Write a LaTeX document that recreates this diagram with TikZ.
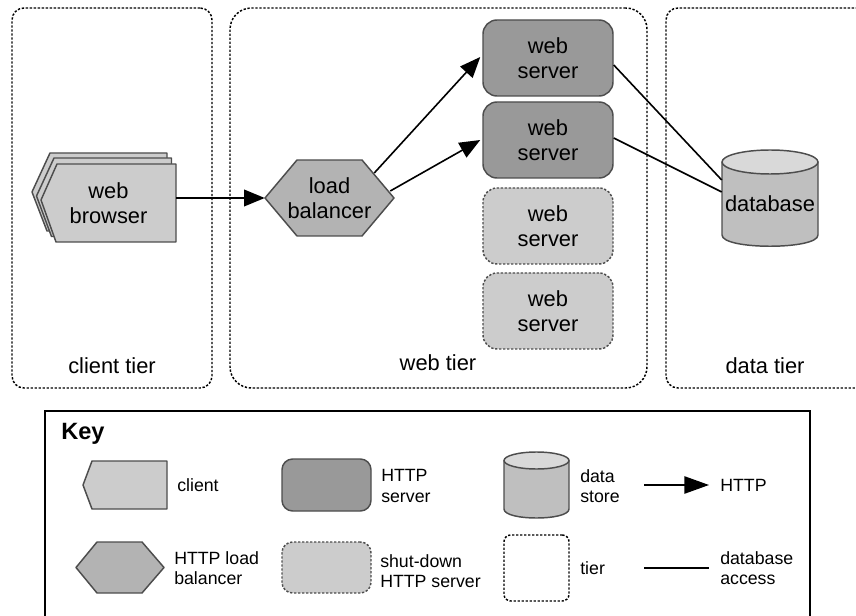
\documentclass[tikz,border=0pt]{standalone}
\usepackage{fontspec}
\setmainfont{Liberation Sans}
\usetikzlibrary{arrows.meta}
\definecolor{edgegray}{HTML}{4D4D4D}
\definecolor{servergray}{HTML}{999999}
\definecolor{lightgray2}{HTML}{CCCCCC}
\definecolor{lbgray}{HTML}{B3B3B3}
\definecolor{dbgray}{HTML}{BFBFBF}
\definecolor{dbtop}{HTML}{D9D9D9}
\tikzset{
  bigtext/.style={font=\fontsize{16.4}{18.75}\selectfont,align=center,inner sep=0pt,text=black},
  keytext/.style={font=\fontsize{13.3}{15.4}\selectfont,align=left,inner sep=0pt,anchor=west,text=black},
  hole/.style={draw=none,fill=none,rectangle,inner sep=0pt,minimum width=#1},
  shapeline/.style={draw=edgegray,line width=1.1pt,line join=round},
  tierdash/.style={dash pattern=on 1.7pt off 1.3pt},
  tierbox/.style={draw=black,line width=1.1pt,tierdash,rectangle,inner sep=0pt,fill=none},
  serverbox/.style={shapeline,rectangle,fill=servergray,inner sep=0pt,rounded corners=10.5pt,minimum width=97.5pt,minimum height=57pt},
  offbox/.style={serverbox,fill=lightgray2,tierdash},
  client/.style={shapeline,fill=lightgray2},
  lbshape/.style={shapeline,fill=lbgray},
  dbbody/.style={shapeline,fill=dbgray},
  dbcap/.style={shapeline,fill=dbtop},
  http/.style={draw=black,line width=1.2pt,-{Triangle[length=15.5pt,width=12.5pt]}},
  dbaccess/.style={draw=black,line width=1.2pt},
}
\begin{document}
\begin{tikzpicture}[x=0.75pt,y=-0.75pt]
\path[use as bounding box,clip] (0,0) rectangle (856,616);
% tiers
\node[tierbox,rounded corners=9pt,minimum width=150pt,minimum height=285pt] (clienttier) at (112,198) {};
\node[tierbox,rounded corners=16pt,minimum width=312.75pt,minimum height=285pt] (webtier) at (438.5,198) {};
\node[tierbox,rounded corners=9pt,minimum width=165pt,minimum height=285pt] (datatier) at (776,198) {};
\node[bigtext] (clientlabel) at (112,366) {client tier};
\node[bigtext] (weblabel) at (438,363) {web tier};
\node[bigtext] (datalabel) at (765,366) {data tier};
% browser stack
\draw[client] (167,153) -- (50,153) -- (32,192) -- (47,231) -- (167,231) -- cycle;
\draw[client] (171.5,158) -- (54,158) -- (36.5,196) -- (51.5,236.5) -- (171.5,236.5) -- cycle;
\draw[client] (176,164) -- (57,164) -- (41,200) -- (56,242) -- (176,242) -- cycle;
\node[bigtext,hole=101.25pt,minimum height=58.5pt] (browser) at (108.5,203) {web\\browser};
% load balancer
\draw[lbshape] (265,198) -- (297,160) -- (362,160) -- (394,198) -- (362,236) -- (297,236) -- cycle;
\node[bigtext,hole=96.75pt,minimum height=57pt] (lb) at (329.5,198) {load\\balancer};
% servers
\node[serverbox,bigtext] (s1) at (548,58) {web\\server};
\node[serverbox,bigtext] (s2) at (548,140) {web\\server};
\node[offbox,bigtext] (s3) at (548,226) {web\\server};
\node[offbox,bigtext] (s4) at (548,311) {web\\server};
% database
\draw[dbbody] (722,162) -- (722,235) .. controls (722,250) and (818,250) .. (818,235) -- (818,162) -- cycle;
\draw[dbcap] (770,162) ellipse [x radius=48,y radius=12];
\node[bigtext,hole=72pt,minimum height=72pt] (db) at (770,204) {database};
% connectors
\draw[http] (browser.east |- lb.west) -- (lb.west);
\draw[http] ([shift={(-20,-25)}]lb.east) -- ([shift={(-2,-1)}]s1.west);
\draw[http] ([shift={(-4,-7)}]lb.east) -- ([shift={(-2,0)}]s2.west);
\draw[dbaccess] ([shift={(0,7)}]s1.east) -- ([shift={(0,-24)}]db.west);
\draw[dbaccess] ([shift={(0,-2)}]s2.east) -- ([shift={(0,-12)}]db.west);
% key
\node[draw=black,line width=0.8pt,rectangle,inner sep=0pt,minimum width=573.75pt,minimum height=180pt] (keybox) at (427.5,531) {};
\node[keytext,font=\fontsize{17.7}{20}\selectfont\bfseries,text=black] (keytitle) at (61,434) {Key};
\draw[client] (167,461) -- (92,461) -- (83,485) -- (92,509) -- (167,509) -- cycle;
\node[keytext] (kclient) at (177,485) {client};
\node[serverbox,minimum width=66.75pt,minimum height=39pt,rounded corners=8pt] (kserver) at (326.5,485) {};
\node[keytext] (kservert) at (381,486) {HTTP\\server};
\draw[lbshape] (76,567.5) -- (97,542) -- (142,542) -- (164,567.5) -- (142,593) -- (97,593) -- cycle;
\node[keytext] (klb) at (174,568) {HTTP load\\balancer};
\node[offbox,minimum width=66.75pt,minimum height=38.25pt,rounded corners=8pt] (koff) at (326.5,567.5) {};
\node[keytext] (kofft) at (380,571) {shut-down\\HTTP server};
\draw[dbbody] (504,460.5) -- (504,509) .. controls (504,521) and (569,521) .. (569,509) -- (569,460.5) -- cycle;
\draw[dbcap] (536.5,460.5) ellipse [x radius=32.5,y radius=8.5];
\node[keytext] (kdb) at (580,486) {data\\store};
\node[tierbox,rounded corners=5pt,minimum width=48.75pt,minimum height=49.5pt] (ktier) at (536.5,568) {};
\node[keytext] (ktiert) at (580,568) {tier};
\coordinate (ha) at (644,485);
\coordinate (hb) at (709,485);
\draw[http,-{Triangle[length=18.5pt,width=13pt]}] (ha) -- (hb);
\node[keytext] (khttp) at (720,485) {HTTP};
\coordinate (da) at (644,568);
\coordinate (db2) at (709,568);
\draw[dbaccess] (da) -- (db2);
\node[keytext] (kdbt) at (720,568) {database\\access};
\end{tikzpicture}
\end{document}
